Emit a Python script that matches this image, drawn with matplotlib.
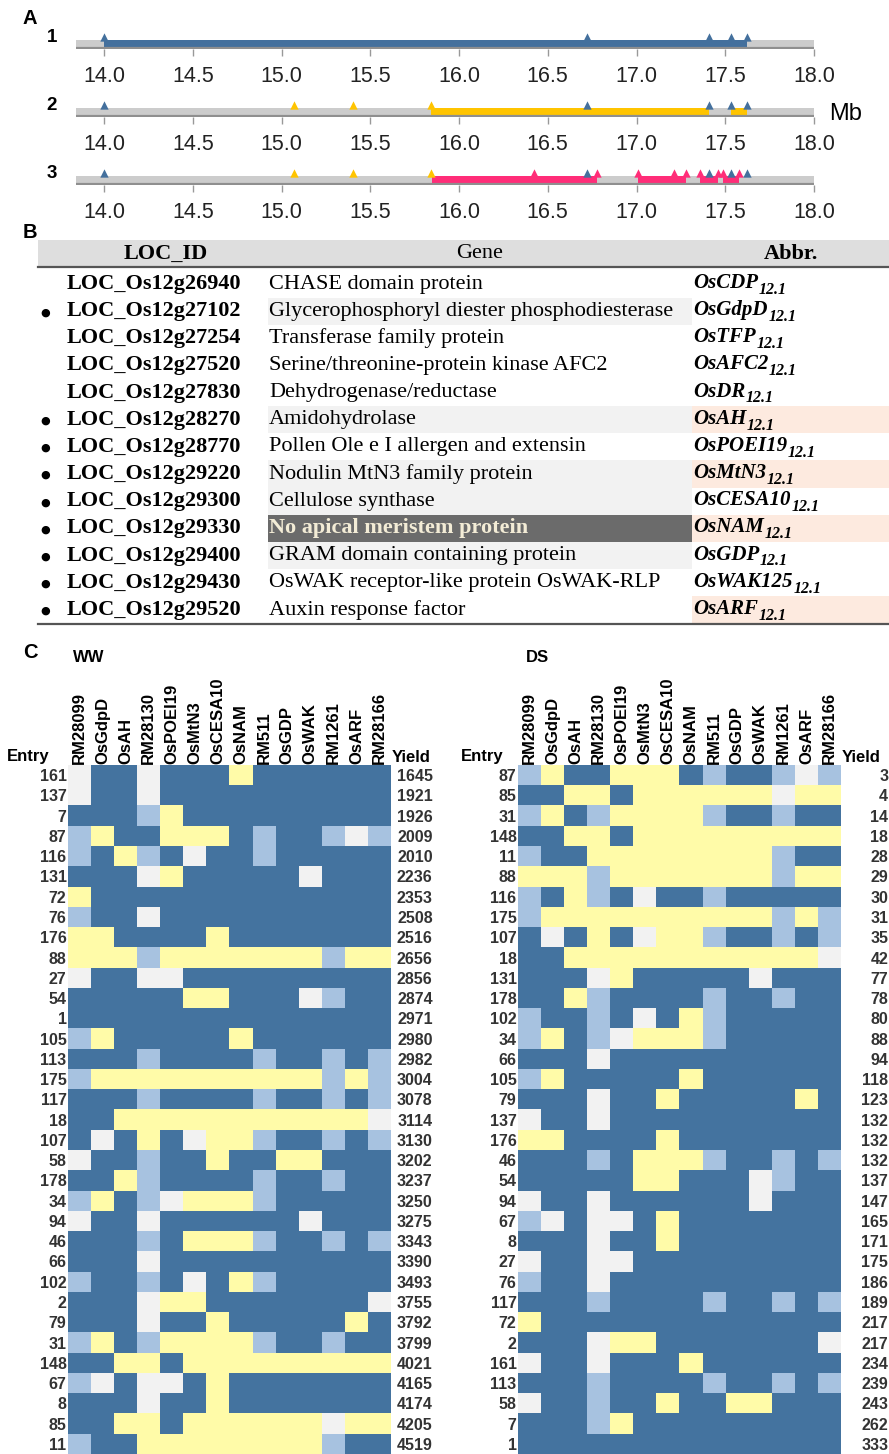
import matplotlib
matplotlib.use("Agg")
import matplotlib.pyplot as plt
import numpy as np
from matplotlib.colors import ListedColormap
from matplotlib.patches import Rectangle

plt.rcParams['font.family'] = ['Liberation Sans', 'DejaVu Sans']

W, H = 889, 1454

###############################################################################
#                                   DATA                                      #
###############################################################################

# panel A : introgression segments on chr 12 (Mb)
chrom_start, chrom_end = 13.84, 18.0
segments = [
    [(14.0, 17.62)],
    [(15.84, 17.41), (17.53, 17.62)],
    [(15.85, 16.78), (17.01, 17.28), (17.36, 17.46), (17.49, 17.58)],
]
seg_colors = ["#44709d", "#ffc400", "#ff2d78"]
blue_markers = [14.0, 16.72, 17.41, 17.53, 17.62]
yellow_markers = [15.07, 15.40, 15.84]
pink_markers = [16.42, 16.78, 17.01, 17.21, 17.28, 17.36, 17.46, 17.49, 17.58]

# panel B : candidate genes
loc_ids = ["LOC_Os12g26940", "LOC_Os12g27102", "LOC_Os12g27254", "LOC_Os12g27520",
           "LOC_Os12g27830", "LOC_Os12g28270", "LOC_Os12g28770", "LOC_Os12g29220",
           "LOC_Os12g29300", "LOC_Os12g29330", "LOC_Os12g29400", "LOC_Os12g29430",
           "LOC_Os12g29520"]
genes = ["CHASE domain protein", "Glycerophosphoryl diester phosphodiesterase",
         "Transferase family protein", "Serine/threonine-protein kinase AFC2",
         "Dehydrogenase/reductase", "Amidohydrolase",
         "Pollen Ole e I allergen and extensin", "Nodulin MtN3 family protein",
         "Cellulose synthase", "No apical meristem protein",
         "GRAM domain containing protein", "OsWAK receptor-like protein OsWAK-RLP",
         "Auxin response factor"]
abbrs = ["OsCDP", "OsGdpD", "OsTFP", "OsAFC2", "OsDR", "OsAH", "OsPOEI19", "OsMtN3",
         "OsCESA10", "OsNAM", "OsGDP", "OsWAK125", "OsARF"]
bullets = [0, 1, 0, 0, 0, 1, 1, 1, 1, 1, 1, 1, 1]
gene_shade = [0, 1, 0, 0, 0, 1, 0, 1, 1, 2, 1, 0, 0]
abbr_shade = [0, 0, 0, 0, 0, 1, 0, 1, 0, 1, 0, 0, 1]

# panel C : graphical genotypes (B dark blue, L light blue, W missing, Y introgression)
marker_names = ["RM28099", "OsGdpD", "OsAH", "RM28130", "OsPOEI19", "OsMtN3", "OsCESA10",
                "OsNAM", "RM511", "OsGDP", "OsWAK", "RM1261", "OsARF", "RM28166"]
genotype = {
    161: "WBBWBBBYBBBBBB", 137: "WBBWBBBBBBBBBB", 7: "BBBLYBBBBBBBBB",
    87: "LYBBYYYBLBBLWL", 116: "LBYLBWBBLBBBBB", 131: "BBBWYBBBBBWBBB",
    72: "YBBBBBBBBBBBBB", 76: "LBBWBBBBBBBBBB", 176: "YYBBBBYBBBBBBB",
    88: "YYYLYYYYYYYLYY", 27: "WBBWWBBBBBBBBB", 54: "BBBBBYYBBBWLBB",
    1: "BBBBBBBBBBBBBB", 105: "LYBBBBBYBBBBBB", 113: "BBBLBBBBLBBLBL",
    175: "LYYYYYYYYYYLYL", 117: "BBBLBBBBLBBLBL", 18: "BBYYYYYYYYYYYW",
    107: "BWBYBWYYLBBLBL", 58: "WBBLBBYBBYYBBB", 178: "BBYLBBBBLBBLBB",
    34: "LYBLWYYYLBBBBB", 94: "WBBWBBBBBBWBBB", 46: "BBBLBYYYLBBLBL",
    66: "BBBWBBBBBBBBBB", 102: "LBBLBWBYLBBBBB", 2: "BBBWYYBBBBBBBW",
    79: "BBBWBBYBBBBBYB", 31: "LYBLYYYYLBBLBB", 148: "BBYYBYYYYYYYYY",
    67: "LWBWWBYBBBBBBB", 8: "BBBWBBYBBBBBBB", 85: "BBYYBYYYYYYWYY",
    11: "LBBYYYYYYYYLBB",
}
ww_entries = [161, 137, 7, 87, 116, 131, 72, 76, 176, 88, 27, 54, 1, 105, 113, 175, 117,
              18, 107, 58, 178, 34, 94, 46, 66, 102, 2, 79, 31, 148, 67, 8, 85, 11]
ww_yield = [1645, 1921, 1926, 2009, 2010, 2236, 2353, 2508, 2516, 2656, 2856, 2874, 2971,
            2980, 2982, 3004, 3078, 3114, 3130, 3202, 3237, 3250, 3275, 3343, 3390, 3493,
            3755, 3792, 3799, 4021, 4165, 4174, 4205, 4519]
ds_entries = [87, 85, 31, 148, 11, 88, 116, 175, 107, 18, 131, 178, 102, 34, 66, 105, 79,
              137, 176, 46, 54, 94, 67, 8, 27, 76, 117, 72, 2, 161, 113, 58, 7, 1]
ds_yield = [3, 4, 14, 18, 28, 29, 30, 31, 35, 42, 77, 78, 80, 88, 94, 118, 123, 132, 132,
            132, 137, 147, 165, 171, 175, 186, 189, 217, 217, 234, 239, 243, 262, 333]

code = {"B": 0, "L": 1, "W": 2, "Y": 3}
geno_cmap = ListedColormap(["#44739f", "#a7c2e0", "#f2f2f2", "#fffba8"])

###############################################################################
#                                  FIGURE                                     #
###############################################################################

fig = plt.figure(figsize=(W / 100, H / 100), dpi=100)


def px_axes(x0, y0, x1, y1):
    return fig.add_axes([x0 / W, 1 - y1 / H, (x1 - x0) / W, (y1 - y0) / H])


canvas = px_axes(0, 0, W, H)
canvas.set_xlim(0, W)
canvas.set_ylim(H, 0)
canvas.axis("off")

for lab, (x, y) in zip("ABC", [(30, 19), (30, 233), (30, 653)]):
    canvas.text(x, y, lab, fontsize=14.5, fontweight="bold", ha="center", va="center")

# ---------------------------------------------------------------- panel A
px_per_mb = 177.5
mb_left = 14 - 104 / px_per_mb
mb_right = 14 + (W - 104) / px_per_mb
bar_bottoms = [49, 117, 185]
marker_sets = [[(blue_markers, seg_colors[0])],
               [(yellow_markers, seg_colors[1]), (blue_markers, seg_colors[0])],
               [(yellow_markers, seg_colors[1]), (pink_markers, seg_colors[2]),
                (blue_markers, seg_colors[0])]]
narrow = ["Liberation Sans Narrow", "Liberation Sans"]

for k in range(3):
    yb = bar_bottoms[k]
    ax = px_axes(0, yb - 17, W, yb)
    ax.set_xlim(mb_left, mb_right)
    ax.set_ylim(0, 17)
    ax.barh(4.5, chrom_end - chrom_start, left=chrom_start, height=9,
            color="#cccccc", linewidth=0)
    ax.plot([chrom_start, chrom_end], [0.7, 0.7], color="#8f8f8f", lw=1.6,
            solid_capstyle="butt")
    for s, e in segments[k]:
        ax.barh(4.5, e - s, left=s, height=9, color=seg_colors[k], linewidth=0)
    for pos, col in marker_sets[k]:
        ax.scatter(pos, [12.4] * len(pos), marker="^", s=36, color=col,
                   linewidths=0, zorder=5)
    for sp in ax.spines.values():
        sp.set_visible(False)
    ax.set_yticks([])
    ticks = np.arange(14.0, 18.01, 0.5)
    ax.set_xticks(ticks, labels=["%.1f" % t for t in ticks])
    ax.tick_params(axis="x", direction="out", length=5, width=1, color="#999999",
                   labelsize=15.5, pad=7, labelcolor="#222222")
    for lab in ax.get_xticklabels():
        lab.set_family(narrow)
    ax.patch.set_visible(False)
    canvas.text(52, yb - 12, str(k + 1), fontsize=13.5, fontweight="bold",
                ha="center", va="center")

canvas.text(846, 114, "Mb", fontsize=17, family=narrow, ha="center", va="center")

# ---------------------------------------------------------------- panel B
serif = "Liberation Serif"
canvas.add_patch(Rectangle((38, 240), W - 38, 27, color="#dedede", lw=0))
canvas.plot([38, W], [267, 267], color="#555555", lw=1.6)
canvas.text(166, 254, "LOC_ID", family=serif, fontweight="bold", fontsize=16,
            ha="center", va="center")
canvas.text(480, 254, "Gene", family=serif, fontsize=16, ha="center", va="center")
canvas.text(791, 254, "Abbr.", family=serif, fontweight="bold", fontsize=16,
            ha="center", va="center")

row_h = 27.15
for i in range(len(loc_ids)):
    yc = 284 + i * row_h
    if gene_shade[i] == 1:
        canvas.add_patch(Rectangle((268, yc - row_h / 2), 424, row_h, color="#f2f2f2", lw=0))
    elif gene_shade[i] == 2:
        canvas.add_patch(Rectangle((268, yc - row_h / 2), 424, row_h, color="#6b6b6b", lw=0))
    if abbr_shade[i]:
        canvas.add_patch(Rectangle((692, yc - row_h / 2), W - 692, row_h, color="#fdeadf", lw=0))
    if bullets[i]:
        canvas.text(45, yc + 1, "\u25cf", family="DejaVu Sans", fontsize=8,
                    ha="center", va="center")
    canvas.text(67, yc, loc_ids[i], family=serif, fontweight="bold", fontsize=16,
                va="center")
    if gene_shade[i] == 2:
        canvas.text(269, yc, genes[i], family=serif, fontweight="bold", fontsize=16,
                    va="center", color="#f3ecd6")
    else:
        canvas.text(269, yc, genes[i], family=serif, fontsize=16, va="center")
    t = canvas.text(693, yc - 1, abbrs[i], family=serif, fontweight="bold",
                    fontstyle="italic", fontsize=15, va="center")
    canvas.annotate("12.1", xy=(1, 0), xycoords=t, xytext=(0.5, -3.5),
                    textcoords="offset points", family=serif, fontweight="bold",
                    fontstyle="italic", fontsize=11.5, va="bottom")

canvas.plot([38, W], [624, 624], color="#555555", lw=1.6)

# ---------------------------------------------------------------- panel C
canvas.text(73, 657, "WW", fontsize=12, fontweight="bold", va="center")
canvas.text(526, 658, "DS", fontsize=12, fontweight="bold", va="center")


def geno_panel(x0, x1, entries, yields, yield_pad, entry_x, yield_x):
    ax = px_axes(x0, 765, x1, H)
    grid = np.array([[code[c] for c in genotype[e]] for e in entries])
    ax.imshow(grid, cmap=geno_cmap, vmin=-0.5, vmax=3.5, aspect="auto",
              interpolation="nearest")
    ax.set_xticks(range(len(marker_names)), labels=marker_names, rotation=90,
                  fontsize=12, fontweight="bold")
    ax.xaxis.set_ticks_position("top")
    ax.tick_params(axis="x", top=True, bottom=False, labeltop=True, labelbottom=False,
                   length=0, pad=1)
    ax.set_yticks(range(len(entries)), labels=[str(e) for e in entries],
                  fontsize=11.5, fontweight="bold", color="#333333")
    ax.tick_params(axis="y", length=0, pad=1)
    ax2 = ax.twinx()
    ax2.set_ylim(ax.get_ylim())
    ax2.set_yticks(range(len(entries)), labels=[str(v) for v in yields],
                   fontsize=11.5, fontweight="bold", color="#333333")
    for lab in ax2.get_yticklabels():
        lab.set_horizontalalignment("right")
    ax2.tick_params(axis="y", length=0, pad=yield_pad)
    for a in (ax, ax2):
        for sp in a.spines.values():
            sp.set_visible(False)
    canvas.text(entry_x, 757, "Entry", fontsize=12, fontweight="bold",
                ha="right", va="center")
    canvas.text(yield_x, 757, "Yield", fontsize=12, fontweight="bold",
                ha="left", va="center")


geno_panel(68, 391, ww_entries, ww_yield, 30, 50, 392)
geno_panel(518, 841, ds_entries, ds_yield, 34, 503, 842)

fig.savefig("out.png", dpi=100)
